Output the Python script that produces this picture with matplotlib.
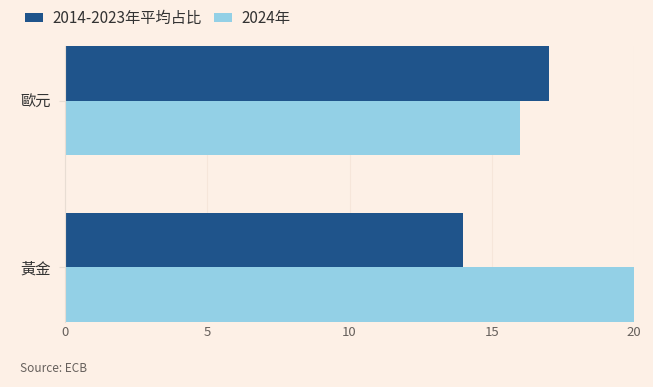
import numpy as np
import matplotlib.pyplot as plt

plt.rcParams['font.family'] = ['Noto Sans CJK TC', 'DejaVu Sans']

categories = ['歐元', '黃金']
avg_2014_2023 = [17, 14]
share_2024 = [16, 20]
series_names = ['2014-2023年平均占比', '2024年']
xticks = [0, 5, 10, 15, 20]

bg = '#fdf0e6'
dark = '#1f548b'
light = '#93d0e6'

fig = plt.figure(figsize=(6.53, 3.87), dpi=100, facecolor=bg)
ax = fig.add_axes([0.0995, 0.168, 0.8715, 0.713], facecolor=bg)

y = np.arange(len(categories))
h = 0.327
ax.barh(y - h / 2, avg_2014_2023, height=h, color=dark, label=series_names[0])
ax.barh(y + h / 2, share_2024, height=h, color=light, label=series_names[1])

ax.set_ylim(1 + h, -h)
ax.set_xlim(0, 20)
ax.set_yticks(y)
ax.set_yticklabels(categories, fontsize=11, color='#333333')
ax.set_xticks(xticks)
ax.set_xticklabels([str(t) for t in xticks], fontsize=9.5, color='#66605c')
ax.tick_params(axis='x', length=0, pad=3)
ax.tick_params(axis='y', length=4, color='#e8ddd3', pad=6)
ax.grid(axis='x', color='#f6e6da', linewidth=0.8)
ax.set_axisbelow(True)
for s in ['top', 'right', 'bottom']:
    ax.spines[s].set_visible(False)
ax.spines['left'].set_color('#e8ddd3')

fig.legend(loc='upper left', bbox_to_anchor=(0.017, 1.01), ncol=2, frameon=False,
           fontsize=11, handlelength=1.2, handleheight=0.6, columnspacing=0.8,
           handletextpad=0.6, labelcolor='#333333')

fig.text(0.03, 0.04, 'Source: ECB', fontsize=8.5, color='#66605c')

fig.savefig('out.png', dpi=100, facecolor=bg)
